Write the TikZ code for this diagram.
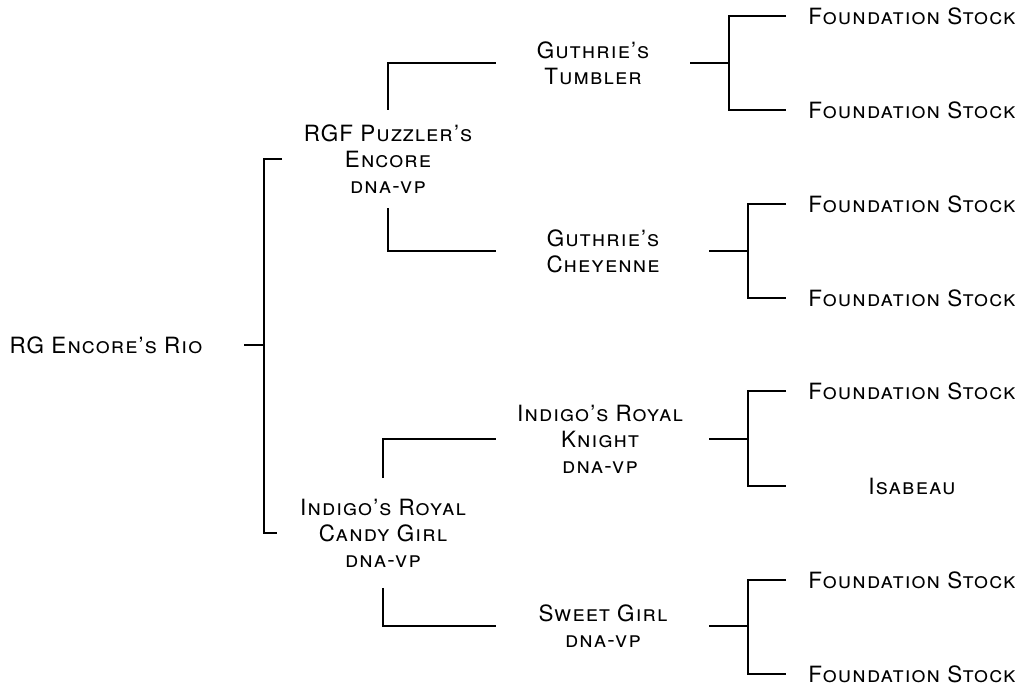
\documentclass[tikz,border=0pt]{standalone}
\usepackage{fontspec}
\setmainfont{TeX Gyre Heros}[LetterSpace=5]

\begin{document}
\begin{tikzpicture}[x=0.5pt, y=-0.5pt, line width=0.7pt,
    horse/.style={align=center, inner sep=0pt, font=\fontsize{11.2}{13}\selectfont\scshape},
    parent/.style={horse, inner ysep=7pt}]
  \useasboundingbox (0,0) rectangle (1021,686);

  % Generation 1
  \node[horse] (rio) at (106,345) {RG Encore's Rio};

  % Generation 2
  \node[parent] (puz) at (388,159) {RGF Puzzler's\\Encore\\dna-vp};
  \node[parent, inner ysep=10pt] (cand) at (383,533) {Indigo's Royal\\Candy Girl\\dna-vp};

  % Generation 3
  \node[horse] (tum) at (593,63) {Guthrie's\\Tumbler};
  \node[horse] (che) at (603,251) {Guthrie's\\Cheyenne};
  \node[horse] (kni) at (600,439) {Indigo's Royal\\Knight\\dna-vp};
  \node[horse] (swe) at (603,626) {Sweet Girl\\dna-vp};

  % Generation 4
  \node[horse] (fs1) at (912,16) {Foundation Stock};
  \node[horse] (fs2) at (912,110) {Foundation Stock};
  \node[horse] (fs3) at (912,204) {Foundation Stock};
  \node[horse] (fs4) at (912,298) {Foundation Stock};
  \node[horse] (fs5) at (912,391) {Foundation Stock};
  \node[horse] (isa) at (912,486) {Isabeau};
  \node[horse] (fs6) at (912,580) {Foundation Stock};
  \node[horse] (fs7) at (912,674) {Foundation Stock};

  % Brackets from each horse to its sire and dam
  \draw (244,0 |- rio) -- (264,0 |- rio);
  \draw (282,0 |- puz) -| (264,0 |- cand) -- (277,0 |- cand);

  \draw (puz.north) |- (496,0 |- tum);
  \draw (puz.south) |- (496,0 |- che);
  \draw (cand.north) |- (496,0 |- kni);
  \draw (cand.south) |- (496,0 |- swe);

  \draw (690,0 |- tum) -- (729,0 |- tum);
  \draw (786,0 |- fs1) -| (729,0 |- fs2) -- (786,0 |- fs2);
  \draw (709,0 |- che) -- (748,0 |- che);
  \draw (786,0 |- fs3) -| (748,0 |- fs4) -- (786,0 |- fs4);
  \draw (709,0 |- kni) -- (748,0 |- kni);
  \draw (786,0 |- fs5) -| (748,0 |- isa) -- (786,0 |- isa);
  \draw (709,0 |- swe) -- (748,0 |- swe);
  \draw (786,0 |- fs6) -| (748,0 |- fs7) -- (786,0 |- fs7);
\end{tikzpicture}
\end{document}
